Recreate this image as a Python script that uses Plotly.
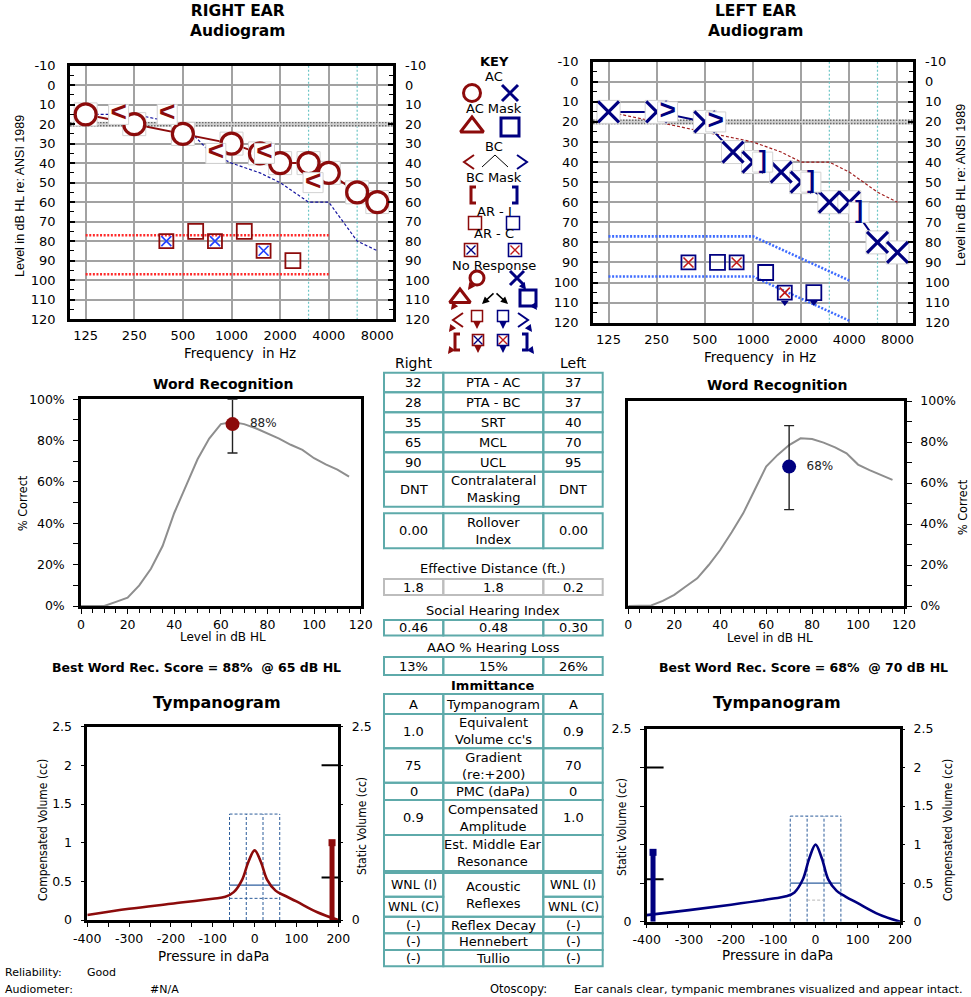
import plotly.graph_objects as go

# ------------------------------------------------------------------ data
AUD_FREQS = [125, 250, 500, 1000, 2000, 4000, 8000]
MID_FREQS = [3000, 6000]
DB_TICKS = list(range(-10, 121, 10))
NORMAL_LIMIT = 20

# right ear
right_ac_f = [125, 250, 500, 1000, 1500, 2000, 3000, 4000, 6000, 8000]
right_ac_db = [15, 20, 25, 30, 35, 40, 40, 45, 55, 60]
right_bc_f = [250, 500, 1000, 2000, 4000]
right_bc_db = [15, 15, 35, 35, 50]
right_ari_f = [500, 1000, 2000]
right_ari_db = [75, 75, 90]
right_arc_f = [500, 1000, 2000]
right_arc_db = [80, 80, 85]
right_mask_f = [125, 4000]
right_mask_upper = [77, 77]
right_mask_lower = [97, 97]

# left ear
left_ac_f = [125, 250, 500, 750, 1000, 1500, 2000, 3000, 4000, 6000, 8000]
left_ac_db = [15, 15, 20, 35, 40, 45, 50, 60, 60, 80, 85]
left_bc_f = [250, 500]
left_bc_db = [15, 20]
left_bcm_f = [1000, 2000, 4000]
left_bcm_db = [40, 50, 65]
left_ari_f = [500, 1000, 2000]
left_ari_db = [90, 95, 105]
left_ari_nr = [False, False, True]
left_arc_f = [500, 1000, 2000]
left_arc_db = [90, 90, 105]
left_arc_nr = [False, False, True]
left_mask_f = [125, 1000, 4000]
left_mask_upper = [77, 77, 99]
left_mask_lower = [97, 97, 119]

# word recognition
wr_levels = [0, 5, 10, 15, 20, 25, 30, 35, 40, 45, 50, 55, 60, 65, 70, 75,
             80, 85, 90, 95, 100, 105, 110, 115]
right_wr_pct = [0, 0, 0, 2, 4, 10, 18, 29, 45, 58, 71, 81, 88, 89, 88, 86,
                83.5, 81, 78, 75.5, 71.5, 68.5, 66, 62.6]
left_wr_pct = [0, 0, 0.3, 2.5, 5.4, 9.5, 13.5, 20, 27.3, 36, 45.2, 56.6, 68,
               73.7, 78.5, 81.8, 81.5, 79.7, 77.4, 74.5, 69, 66.3, 63.9, 61.5]
right_wrs_level, right_wrs_score, right_wrs_range = 65, 88, [74, 100]
left_wrs_level, left_wrs_score, left_wrs_range = 70, 68, [47, 88]

# tympanometry
tymp_p = [-400, -300, -200, -100, -70, -50, -30, -15, 0, 15, 30, 50, 70, 100, 150, 200]
right_tymp_cc = [0.065, 0.145, 0.21, 0.275, 0.30, 0.36, 0.52, 0.75, 0.90, 0.75,
                 0.52, 0.38, 0.32, 0.24, 0.10, 0.0]
left_tymp_cc = [0.085, 0.15, 0.22, 0.30, 0.33, 0.38, 0.55, 0.82, 1.00, 0.82,
                0.55, 0.40, 0.33, 0.24, 0.095, 0.0]
right_amplitude, left_amplitude = 0.9, 1.0
right_static_p, right_static_cc = 185, 1.0
left_static_p, left_static_cc = -385, 0.9
static_norm = [0.55, 2.0]
gradient_edges = [-60, -20, 20, 60]
gradient_top = 1.37
gradient_low = 0.28
tymp_ticks = [-400, -300, -200, -100, 0, 100, 200]

# summary table
table_main = [("32", "PTA - AC", "37"), ("28", "PTA - BC", "37"), ("35", "SRT", "40"),
              ("65", "MCL", "70"), ("90", "UCL", "95"),
              ("DNT", "Contralateral<br>Masking", "DNT")]
table_rollover = [("0.00", "Rollover<br>Index", "0.00")]
eff_distance = [("1.8", "1.8", "0.2")]
social_index = [("0.46", "0.48", "0.30")]
aao_loss = [("13%", "15%", "26%")]
immittance = [("A", "Tympanogram", "A"), ("1.0", "Equivalent<br>Volume cc's", "0.9"),
              ("75", "Gradient<br>(re:+200)", "70"), ("0", "PMC (daPa)", "0"),
              ("0.9", "Compensated<br>Amplitude", "1.0"),
              ("", "Est. Middle Ear<br>Resonance", "")]
reflex_right = ["WNL (I)", "WNL (C)"]
reflex_left = ["WNL (I)", "WNL (C)"]
reflex_rows = [("(-)", "Reflex Decay", "(-)"), ("(-)", "Hennebert", "(-)"),
               ("(-)", "Tullio", "(-)")]

# ------------------------------------------------------------------ style
W, H = 971, 997
FONT = "DejaVu Sans, Liberation Sans, Arial, sans-serif"
SANS = "Liberation Sans, Arial, sans-serif"
NARROW = "Liberation Sans Narrow, DejaVu Sans Condensed, Liberation Sans, Arial, sans-serif"
RED = "#8C0B0B"
NAVY = "#000080"
GRID = "#A2A2A2"
TEAL = "#5EAAAA"
TEAL_V = "#6CC6C6"
MASK_RED = "#FF2A2A"
MASK_BLUE = "#3D6BFF"
CURVE = "#8E8E8E"
BOX_DASH = "#2C5C9A"

BC_LEFT_SHIFT = 0.80     # right-ear BC symbols sit left of the frequency
BC_RIGHT_SHIFT = 1.17    # left-ear BC symbols sit right of the frequency
BCM_SHIFT = 1.15
ARC_SHIFT = 0.79
ARI_SHIFT = 1.20


def px(x):
    return x / W


def py(y):
    return 1 - y / H


fig = go.Figure()
shapes = []
annotations = []


def add(tr):
    fig.add_trace(tr)


def lines(x, y, xa, ya, color, width, dash="solid", shape="linear"):
    add(go.Scatter(x=x, y=y, xaxis=xa, yaxis=ya, mode="lines", hoverinfo="skip",
                   line=dict(color=color, width=width, dash=dash, shape=shape)))


def marks(x, y, xa, ya, symbol, size, color, lw=2, fill=None, lcolor=None):
    add(go.Scatter(x=x, y=y, xaxis=xa, yaxis=ya, mode="markers", hoverinfo="skip",
                   cliponaxis=False,
                   marker=dict(symbol=symbol, size=size, color=fill or color,
                               line=dict(color=lcolor or color, width=lw))))


def glyphs(x, y, xa, ya, s, size, color, family=SANS):
    add(go.Scatter(x=x, y=y, xaxis=xa, yaxis=ya, mode="text", hoverinfo="skip",
                   cliponaxis=False, text=[s] * len(x), textposition="middle center",
                   textfont=dict(size=size, color=color, family=family)))


def ann(x, y, text, size=13, family=FONT, xanchor="center", angle=0, color="black"):
    annotations.append(dict(xref="paper", yref="paper", x=px(x), y=py(y), text=text,
                            showarrow=False, xanchor=xanchor, yanchor="middle",
                            textangle=angle, font=dict(family=family, size=size, color=color)))


def shifted(freqs, k):
    return [f * k for f in freqs]


# ------------------------------------------------------------------ audiograms
def audiogram(xa, ya, ac_f, ac_db, contra_f, contra_db, ear_color, contra_color,
              mask_f, mask_levels, mask_color):
    for f in MID_FREQS:
        lines([f, f], [-10, 120], xa, ya, TEAL_V, 1.2, "2px,2px")
    lines([100, 10000], [NORMAL_LIMIT] * 2, xa, ya, "#D0D0D0", 5)
    for off in (-0.8, 0.8):
        lines([100, 10000], [NORMAL_LIMIT + off] * 2, xa, ya, "#6A6A6A", 1.4, "1.5px,1.5px")
    for lvl in mask_levels:
        lines(mask_f, lvl, xa, ya, mask_color, 2.6, "2px,1.6px")
    lines(contra_f, contra_db, xa, ya, contra_color, 1.2, "3px,2px")
    lines(ac_f, ac_db, xa, ya, ear_color, 2)


audiogram("x", "y", right_ac_f, right_ac_db, left_ac_f, left_ac_db, RED, "#1616A0",
          right_mask_f, [right_mask_upper, right_mask_lower], MASK_RED)
# right acoustic reflexes
marks(shifted(right_arc_f, ARC_SHIFT), right_arc_db, "x", "y", "x-thin-open", 10, "#2040FF", 1.6)
marks(shifted(right_arc_f, ARC_SHIFT), right_arc_db, "x", "y", "square-open", 14, RED, 1.8)
marks(shifted(right_ari_f, ARI_SHIFT), right_ari_db, "x", "y", "square-open", 15, RED, 1.8)
# right AC circles and BC
marks(right_ac_f, right_ac_db, "x", "y", "square", 23, "white", 1, fill="white", lcolor="#D2D2D2")
marks(right_ac_f, right_ac_db, "x", "y", "circle-open", 21, RED, 3.2)
rbx = shifted(right_bc_f, BC_LEFT_SHIFT)
marks(rbx, right_bc_db, "x", "y", "square", 20, "white", 1, fill="white", lcolor="#D2D2D2")
glyphs(rbx, right_bc_db, "x", "y", "<b><</b>", 28, RED)

audiogram("x2", "y3", left_ac_f, left_ac_db, right_ac_f, right_ac_db, NAVY, "#A01E1E",
          left_mask_f, [left_mask_upper, left_mask_lower], MASK_BLUE)
# left acoustic reflexes
lax = shifted(left_arc_f, ARC_SHIFT)
marks(lax, left_arc_db, "x2", "y3", "x-thin-open", 10, "#C01818", 1.6)
marks(lax, left_arc_db, "x2", "y3", "square-open", 14, NAVY, 1.8)
lix = shifted(left_ari_f, ARI_SHIFT)
marks(lix, left_ari_db, "x2", "y3", "square-open", 15, NAVY, 1.8)
nr_x = [x for x, n in zip(lax, left_arc_nr) if n] + [x for x, n in zip(lix, left_ari_nr) if n]
nr_y = [d + 5 for d, n in zip(left_arc_db, left_arc_nr) if n] + \
       [d + 5 for d, n in zip(left_ari_db, left_ari_nr) if n]
marks(nr_x, nr_y, "x2", "y3", "triangle-down", 7, NAVY, 0)
# left AC crosses and BC
marks(left_ac_f, left_ac_db, "x2", "y3", "square", 23, "white", 1, fill="white", lcolor="#D2D2D2")
marks(left_ac_f, left_ac_db, "x2", "y3", "x-thin-open", 21, NAVY, 3.2)
lbx = shifted(left_bc_f, BC_RIGHT_SHIFT)
marks(lbx, left_bc_db, "x2", "y3", "square", 20, "white", 1, fill="white", lcolor="#D2D2D2")
glyphs(lbx, left_bc_db, "x2", "y3", "<b>></b>", 28, NAVY)
lmx = shifted(left_bcm_f, BCM_SHIFT)
marks(lmx, left_bcm_db, "x2", "y3", "square", 20, "white", 1, fill="white", lcolor="#D2D2D2")
glyphs(lmx, left_bcm_db, "x2", "y3", "<b>]</b>", 24, NAVY)

# dummy traces so the right-hand label axes render
for xa, ya in (("x", "y2"), ("x2", "y4"), ("x5", "y8"), ("x6", "y10")):
    add(go.Scatter(x=[None], y=[None], xaxis=xa, yaxis=ya, mode="markers", hoverinfo="skip"))


# ------------------------------------------------------------------ word recognition
def word_rec(xa, ya, curve, level, score, rng, color):
    lines(wr_levels, [v / 100 for v in curve], xa, ya, CURVE, 2)
    add(go.Scatter(x=[level], y=[score / 100], xaxis=xa, yaxis=ya, mode="markers+text",
                   hoverinfo="skip", cliponaxis=False,
                   marker=dict(symbol="circle", size=14, color=color),
                   text=[f"\u00a0\u00a0{score}%"], textposition="middle right",
                   textfont=dict(family=FONT, size=12, color="#222222"),
                   error_y=dict(type="data", symmetric=False, array=[(rng[1] - score) / 100],
                                arrayminus=[(score - rng[0]) / 100], color="#222222",
                                thickness=1.4, width=5)))


word_rec("x3", "y5", right_wr_pct, right_wrs_level, right_wrs_score, right_wrs_range, RED)
word_rec("x4", "y6", left_wr_pct, left_wrs_level, left_wrs_score, left_wrs_range, NAVY)


# ------------------------------------------------------------------ tympanograms
def tympanogram(xa, ya_comp, ya_static, curve, amp, color, static_p, static_cc,
                static_edge, low_span, low_color):
    g0, g1, g2, g3 = gradient_edges
    for gx in gradient_edges:
        lines([gx, gx], [0, gradient_top], xa, ya_comp, BOX_DASH, 1, "3px,2px")
    lines([g0, g3], [gradient_top] * 2, xa, ya_comp, BOX_DASH, 1, "3px,2px")
    lines(low_span, [gradient_low] * 2, xa, ya_comp, low_color, 1, "3px,2px")
    lines([g0, g3], [amp / 2] * 2, xa, ya_comp, "#2F5F9F", 1.2)
    lines(tymp_p, curve, xa, ya_comp, color, 2.6, shape="spline")
    tick_len = 40 if static_edge < 0 else -40
    for v in static_norm:
        lines([static_edge, static_edge + tick_len], [v, v], xa, ya_static, "black", 2)
    lines([static_p, static_p], [0, static_cc], xa, ya_static, color, 5)
    marks([static_p], [static_cc], xa, ya_static, "square", 7, color, 0)


tympanogram("x5", "y7", "y8", right_tymp_cc, right_amplitude, RED, right_static_p,
            right_static_cc, 200, [gradient_edges[0], gradient_edges[3]], BOX_DASH)
tympanogram("x6", "y10", "y9", left_tymp_cc, left_amplitude, NAVY, left_static_p,
            left_static_cc, -400, [gradient_edges[1], gradient_edges[2]], "#B8B8B8")

# ------------------------------------------------------------------ key panel (legend)
KEY_MID = 74
key_titles = [("<b>KEY</b>", 12), ("AC", 27), ("AC Mask", 59), ("BC", 97),
              ("BC Mask", 128), ("AR - I", 162), ("AR - C", 184), ("No Response", 216)]
key_symbols = [
    ("circle", 52, 43, RED, None), ("x", 90, 43, NAVY, None),
    ("tri", 52, 77, RED, None), ("sq", 90, 77, NAVY, None),
    ("lt", 49, 112, RED, None), ("caret", 75, 111, "black", None), ("gt", 102, 112, NAVY, None),
    ("lb", 53, 145, RED, None), ("rb", 95, 145, NAVY, None),
    ("sqs", 55, 173, RED, None), ("sqs", 93, 173, NAVY, None),
    ("sqx", 51, 200, RED, None), ("sqx", 95, 200, NAVY, None),
    ("circle", 57, 228, RED, "dl"), ("x", 97, 228, NAVY, "dr"),
    ("tri", 40, 248, RED, "dl"), ("caret", 75, 247, "black", "both"), ("sq", 108, 248, NAVY, "dr"),
    ("lt", 38, 270, RED, "dl"), ("sqs", 57, 266, RED, "d"), ("sqs", 83, 266, NAVY, "d"),
    ("gt", 103, 270, NAVY, "dr"),
    ("lb", 37, 292, RED, "dl"), ("sqx", 58, 290, RED, "d"), ("sqx", 83, 290, NAVY, "d"),
    ("rb", 105, 292, NAVY, "dr"),
]
for t, ky in key_titles:
    annotations.append(dict(xref="x7", yref="y11", x=KEY_MID, y=ky, text=t, showarrow=False,
                            font=dict(family=FONT, size=13, color="black")))


def key_arrow(x, y, ax, ay, color):
    # (x, y) is the arrow head, (ax, ay) the tail offset in pixels
    annotations.append(dict(xref="x7", yref="y11", x=x, y=y, ax=ax, ay=ay, text="",
                            showarrow=True, arrowhead=2, arrowsize=0.9, arrowwidth=1.6,
                            arrowcolor=color, standoff=0))


for kind, kx, ky, col, nr in key_symbols:
    small = nr is not None
    if kind == "circle":
        marks([kx], [ky], "x7", "y11", "circle-open", 14 if small else 17, col, 3)
    elif kind == "x":
        marks([kx], [ky], "x7", "y11", "x-thin-open", 14 if small else 16, col, 3)
    elif kind == "tri":
        marks([kx], [ky], "x7", "y11", "triangle-up-open", 18 if small else 20, col, 3)
    elif kind == "sq":
        marks([kx], [ky], "x7", "y11", "square-open", 16 if small else 18, col, 3)
    elif kind == "sqs":
        marks([kx], [ky], "x7", "y11", "square-open", 11 if small else 13, col, 1.5)
    elif kind == "sqx":
        other = NAVY if col == RED else "#C01818"
        marks([kx], [ky], "x7", "y11", "x-thin-open", 9, other, 1.4)
        marks([kx], [ky], "x7", "y11", "square-open", 11 if small else 13, col, 1.6)
    elif kind in ("lt", "gt"):
        s = 1 if kind == "lt" else -1
        lines([kx + 5 * s, kx - 5 * s, kx + 5 * s], [ky - 7, ky, ky + 7], "x7", "y11", col, 2)
    elif kind in ("lb", "rb"):
        s = 1 if kind == "lb" else -1
        lines([kx + 3 * s, kx - 2 * s, kx - 2 * s, kx + 3 * s], [ky - 8, ky - 8, ky + 8, ky + 8],
              "x7", "y11", col, 3)
    elif kind == "caret" and nr is None:
        lines([kx - 13, kx, kx + 13], [ky + 6, ky - 6, ky + 6], "x7", "y11", col, 1)
    if nr == "dl":
        key_arrow(kx - 9, ky + 12, 5, -7, col)
    elif nr == "dr":
        key_arrow(kx + 9, ky + 12, -5, -7, col)
    elif nr == "d":
        key_arrow(kx, ky + 13, 0, -7, col)
    elif nr == "both":
        key_arrow(kx - 13, ky + 7, 13, -12, col)
        key_arrow(kx + 13, ky + 7, -13, -12, col)

# ------------------------------------------------------------------ summary table
COLS = [384, 443.3, 543.3, 602.7]
CENTERS = [(COLS[i] + COLS[i + 1]) / 2 for i in range(3)]


def cell(x0, x1, y0, y1, color=TEAL):
    shapes.append(dict(type="rect", xref="paper", yref="paper", x0=px(x0), x1=px(x1),
                       y0=py(y1), y1=py(y0), line=dict(color=color, width=2)))


def block(rows, bounds, color=TEAL, size=13):
    for i, row in enumerate(rows):
        y0, y1 = bounds[i], bounds[i + 1]
        for j, val in enumerate(row):
            cell(COLS[j], COLS[j + 1], y0, y1, color)
            if val:
                ann(CENTERS[j], (y0 + y1) / 2, val, size)


ann(CENTERS[0], 363, "Right", 14)
ann(CENTERS[2], 363, "Left", 14)
block(table_main, [372.7, 392.3, 412.3, 432.3, 452.3, 471.7, 506.7])
block(table_rollover, [513.3, 548.3])
ann(CENTERS[1], 568.3, "Effective Distance (ft.)")
block(eff_distance, [579, 595], "#BDBDBD")
ann(CENTERS[1], 610, "Social Hearing Index")
block(social_index, [620, 635.5])
ann(CENTERS[1], 647.7, "AAO % Hearing Loss")
block(aao_loss, [657, 675])
ann(CENTERS[1], 685.5, "<b>Immittance</b>", 13)
block(immittance, [694, 714, 748.3, 782.7, 800, 835, 871])
# acoustic reflexes block
refl_bounds = [873, 896.7, 916.7]
for k in range(2):
    cell(COLS[0], COLS[1], refl_bounds[k], refl_bounds[k + 1])
    cell(COLS[2], COLS[3], refl_bounds[k], refl_bounds[k + 1])
    mid = (refl_bounds[k] + refl_bounds[k + 1]) / 2
    ann(CENTERS[0], mid, reflex_right[k], 12.5)
    ann(CENTERS[2], mid, reflex_left[k], 12.5)
cell(COLS[1], COLS[2], refl_bounds[0], refl_bounds[2])
ann(CENTERS[1], (refl_bounds[0] + refl_bounds[2]) / 2, "Acoustic<br>Reflexes")
block(reflex_rows, [916.7, 933.3, 950, 966.3])

# ------------------------------------------------------------------ titles and labels
for cx, ear in ((237, "RIGHT EAR"), (755, "LEFT EAR")):
    ann(cx, 21.5, f"<b>{ear}</b><br><b>Audiogram</b>", 15.5)
ann(240, 353, "Frequency\u00a0 in Hz", 13.5)
ann(760, 357, "Frequency\u00a0 in Hz", 13.5)
ann(20, 196, "Level in dB HL re: ANSI 1989", 12.5, SANS, angle=-90)
ann(961, 185, "Level in dB HL re: ANSI 1989", 12.5, SANS, angle=-90)

ann(223, 384, "<b>Word Recognition</b>", 14)
ann(777, 385, "<b>Word Recognition</b>", 14)
ann(223, 637, "Level in dB HL", 12)
ann(770, 638, "Level in dB HL", 12)
ann(22, 503, "% Correct", 12.5, NARROW, angle=-90)
ann(962, 507, "% Correct", 12.5, NARROW, angle=-90)
ann(196, 667, f"<b>Best Word Rec. Score = {right_wrs_score}%\u00a0 @ {right_wrs_level} dB HL</b>", 12.5)
ann(803, 667, f"<b>Best Word Rec. Score = {left_wrs_score}%\u00a0 @ {left_wrs_level} dB HL</b>", 12.5)

ann(217, 702, "<b>Tympanogram</b>", 16)
ann(777, 702, "<b>Tympanogram</b>", 16)
ann(213, 956, "Pressure in daPa", 13.5)
ann(777, 955, "Pressure in daPa", 13.5)
ann(43, 830, "Compensated Volume (cc)", 12, NARROW, angle=-90)
ann(362, 826, "Static Volume (cc)", 12, NARROW, angle=-90)
ann(622, 827, "Static Volume (cc)", 12, NARROW, angle=-90)
ann(948, 830, "Compensated Volume (cc)", 12, NARROW, angle=-90)

ann(3, 972, "Reliability:", 11, xanchor="left")
ann(85, 972, "Good", 11, xanchor="left")
ann(3, 989, "Audiometer:", 11, xanchor="left")
ann(148, 989, "#N/A", 11, xanchor="left")
ann(488, 989, "Otoscopy:", 11.5, xanchor="left")
ann(572, 989, "Ear canals clear, tympanic membranes visualized and appear intact.", 11.3,
    xanchor="left")

# ------------------------------------------------------------------ axes
TICKFONT = dict(family=FONT, size=12.5, color="black")
BOX = dict(showline=True, linecolor="black", linewidth=2.5, zeroline=False, fixedrange=True,
           tickcolor="black", tickfont=TICKFONT, automargin=False)


def aud_x(left, right, anchor):
    return dict(BOX, domain=[px(left), px(right)], anchor=anchor, type="log", range=[2, 4],
                tickmode="array", tickvals=AUD_FREQS, ticktext=[str(f) for f in AUD_FREQS],
                showgrid=True, gridcolor=GRID, gridwidth=1.5, mirror=True, ticks="",
                ticklabelstandoff=3, tickfont=dict(TICKFONT, size=13))


def aud_y(top, bottom, anchor):
    return dict(BOX, domain=[py(bottom), py(top)], anchor=anchor, range=[120, -10],
                autorange=False, tickmode="array", tickvals=DB_TICKS,
                ticktext=[str(v) for v in DB_TICKS], showgrid=True, gridcolor=GRID,
                gridwidth=1.5, mirror="ticks", ticks="inside", ticklen=5, tickwidth=1.5,
                minor=dict(dtick=5, ticks="inside", ticklen=4, tickwidth=1, tickcolor="black"),
                ticklabelstandoff=9, tickfont=dict(TICKFONT, size=13))


def aud_y_right(base, anchor):
    return dict(overlaying=base, anchor=anchor, side="right", range=[120, -10],
                autorange=False, tickmode="array", tickvals=DB_TICKS,
                ticktext=[str(v) for v in DB_TICKS], showgrid=False, showline=False,
                zeroline=False, ticks="", ticklabelstandoff=11, fixedrange=True,
                automargin=False, tickfont=dict(TICKFONT, size=13))


def wr_x(left, right, anchor):
    return dict(BOX, domain=[px(left), px(right)], anchor=anchor, range=[0, 120], dtick=20,
                tick0=0, ticks="outside", ticklen=5, tickwidth=1.2, mirror=True,
                showgrid=False, ticklabelstandoff=0,
                minor=dict(dtick=5, ticks="outside", ticklen=4, tickwidth=1.2,
                           tickcolor="black"))


def wr_y(top, bottom, anchor, side):
    return dict(BOX, domain=[py(bottom), py(top)], anchor=anchor, side=side, range=[0, 1],
                dtick=0.2, tick0=0, tickformat=".0%", ticks="outside", ticklen=5,
                tickwidth=1.2, mirror=True, showgrid=False, ticklabelstandoff=6,
                minor=dict(dtick=0.1, ticks="outside", ticklen=5, tickwidth=1.2,
                           tickcolor="black"))


TY_VALS = [0, 0.5, 1, 1.5, 2, 2.5]
TY_FULL = ["0", "0.5", "1", "1.5", "2", "2.5"]
TY_ENDS = ["0", "", "", "", "", "2.5"]


def ty_x(left, right, anchor):
    return dict(BOX, domain=[px(left), px(right)], anchor=anchor, range=[-400, 200],
                tickmode="array", tickvals=tymp_ticks, ticktext=[str(v) for v in tymp_ticks],
                ticks="outside", ticklen=4, tickwidth=1.2, mirror=True, showgrid=False,
                ticklabelstandoff=1,
                minor=dict(dtick=50, ticks="outside", ticklen=4, tickwidth=1.2,
                           tickcolor="black"))


def ty_y(top, bottom, anchor, side, labels):
    return dict(BOX, domain=[py(bottom), py(top)], anchor=anchor, side=side, range=[0, 2.5],
                autorange=False, tickmode="array", tickvals=TY_VALS, ticktext=labels,
                ticks="outside", ticklen=4, tickwidth=1.2, mirror=True, showgrid=False,
                ticklabelstandoff=6)


def ty_y_over(base, anchor, side, labels):
    return dict(overlaying=base, anchor=anchor, side=side, range=[0, 2.5], autorange=False,
                tickmode="array", tickvals=TY_VALS, ticktext=labels, ticks="outside",
                ticklen=4, tickwidth=1.2, tickcolor="black", showgrid=False, showline=False,
                zeroline=False, fixedrange=True, ticklabelstandoff=6, tickfont=TICKFONT,
                automargin=False)


fig.update_layout(
    width=W, height=H, autosize=False,
    margin=dict(l=0, r=0, t=0, b=0, pad=0, autoexpand=False),
    paper_bgcolor="white", plot_bgcolor="white", showlegend=False,
    font=dict(family=FONT, size=13, color="black"),
    xaxis=aud_x(70, 393, "y"), yaxis=aud_y(65.7, 319, "x"), yaxis2=aud_y_right("y", "x"),
    xaxis2=aud_x(593, 913, "y3"), yaxis3=aud_y(61.7, 322.7, "x2"),
    yaxis4=aud_y_right("y3", "x2"),
    xaxis3=wr_x(81, 360.7, "y5"), yaxis5=wr_y(399.3, 606, "x3", "left"),
    xaxis4=wr_x(628.3, 904, "y6"), yaxis6=wr_y(401, 606, "x4", "right"),
    xaxis5=ty_x(87.3, 338.3, "y7"), yaxis7=ty_y(726.7, 920, "x5", "left", TY_FULL),
    yaxis8=ty_y_over("y7", "x5", "right", TY_ENDS),
    xaxis6=ty_x(646.7, 900, "y9"), yaxis9=ty_y(729, 921.7, "x6", "left", TY_ENDS),
    yaxis10=ty_y_over("y9", "x6", "right", TY_FULL),
    xaxis7=dict(domain=[px(420), px(570)], anchor="y11", range=[0, 150], visible=False,
                fixedrange=True),
    yaxis11=dict(domain=[py(360), py(50)], anchor="x7", range=[310, 0], visible=False,
                 fixedrange=True),
    shapes=shapes, annotations=annotations,
)

fig.write_html("out.html")
